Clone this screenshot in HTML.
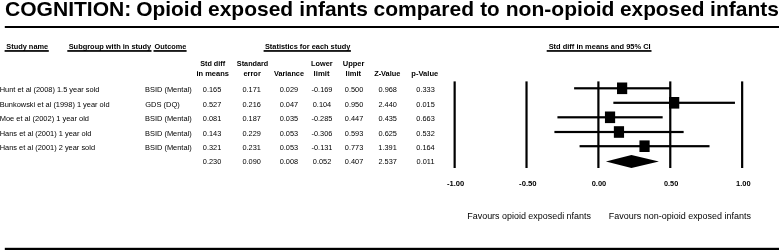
<!DOCTYPE html><html><head><meta charset="utf-8"><title>Forest plot</title><style>html,body{margin:0;padding:0;background:#fff;overflow:hidden}svg{display:block}text{font-family:"Liberation Sans",Arial,Helvetica,sans-serif;fill:#000}.b{font-weight:bold}</style></head><body>
<svg width="779" height="250" viewBox="0 0 779 250">
<rect width="779" height="250" fill="#fff"/>
<text class="b" x="4.96" y="15.60" font-size="20.6" textLength="126.40" lengthAdjust="spacingAndGlyphs">COGNITION:</text>
<text class="b" x="136.16" y="15.60" font-size="20.6" textLength="66.31" lengthAdjust="spacingAndGlyphs">Opioid</text>
<text class="b" x="207.97" y="15.60" font-size="20.6" textLength="85.21" lengthAdjust="spacingAndGlyphs">exposed</text>
<text class="b" x="299.34" y="15.60" font-size="20.6" textLength="68.61" lengthAdjust="spacingAndGlyphs">infants</text>
<text class="b" x="373.57" y="15.60" font-size="20.6" textLength="100.41" lengthAdjust="spacingAndGlyphs">compared</text>
<text class="b" x="480.19" y="15.60" font-size="20.6" textLength="19.44" lengthAdjust="spacingAndGlyphs">to</text>
<text class="b" x="505.74" y="15.60" font-size="20.6" textLength="108.74" lengthAdjust="spacingAndGlyphs">non-opioid</text>
<text class="b" x="619.98" y="15.60" font-size="20.6" textLength="84.49" lengthAdjust="spacingAndGlyphs">exposed</text>
<text class="b" x="710.14" y="15.60" font-size="20.6" textLength="68.82" lengthAdjust="spacingAndGlyphs">infants</text>
<text class="b" x="6.25" y="48.70" font-size="7.4" textLength="41.94" lengthAdjust="spacingAndGlyphs">Study name</text>
<text class="b" x="68.65" y="48.70" font-size="7.4" textLength="82.62" lengthAdjust="spacingAndGlyphs">Subgroup with in study</text>
<text class="b" x="154.51" y="48.70" font-size="7.4" textLength="31.79" lengthAdjust="spacingAndGlyphs">Outcome</text>
<text class="b" x="264.95" y="48.70" font-size="7.4" textLength="85.32" lengthAdjust="spacingAndGlyphs">Statistics for each study</text>
<text class="b" x="548.65" y="48.70" font-size="7.4" textLength="101.98" lengthAdjust="spacingAndGlyphs">Std diff in means and 95% CI</text>
<text class="b" x="200.15" y="65.70" font-size="7.7" textLength="24.99" lengthAdjust="spacingAndGlyphs">Std diff</text>
<text class="b" x="196.45" y="75.60" font-size="7.7" textLength="32.52" lengthAdjust="spacingAndGlyphs">in means</text>
<text class="b" x="236.86" y="65.70" font-size="7.7" textLength="31.39" lengthAdjust="spacingAndGlyphs">Standard</text>
<text class="b" x="243.38" y="75.60" font-size="7.7" textLength="17.49" lengthAdjust="spacingAndGlyphs">error</text>
<text class="b" x="274.00" y="75.60" font-size="7.7" textLength="29.99" lengthAdjust="spacingAndGlyphs">Variance</text>
<text class="b" x="311.06" y="65.70" font-size="7.7" textLength="21.61" lengthAdjust="spacingAndGlyphs">Lower</text>
<text class="b" x="313.64" y="75.60" font-size="7.7" textLength="15.89" lengthAdjust="spacingAndGlyphs">limit</text>
<text class="b" x="342.75" y="65.70" font-size="7.7" textLength="21.72" lengthAdjust="spacingAndGlyphs">Upper</text>
<text class="b" x="345.55" y="75.60" font-size="7.7" textLength="15.47" lengthAdjust="spacingAndGlyphs">limit</text>
<text class="b" x="374.15" y="75.60" font-size="7.7" textLength="26.24" lengthAdjust="spacingAndGlyphs">Z-Value</text>
<text class="b" x="411.35" y="75.60" font-size="7.7" textLength="26.85" lengthAdjust="spacingAndGlyphs">p-Value</text>
<text x="-0.29" y="92.30" font-size="7.3" textLength="99.71" lengthAdjust="spacingAndGlyphs">Hunt et al (2008) 1.5 year sold</text>
<text x="145.01" y="92.30" font-size="7.3" textLength="46.69" lengthAdjust="spacingAndGlyphs">BSID (Mental)</text>
<text x="202.80" y="92.30" font-size="7.3" textLength="18.45" lengthAdjust="spacingAndGlyphs">0.165</text>
<text x="242.43" y="92.30" font-size="7.3" textLength="18.45" lengthAdjust="spacingAndGlyphs">0.171</text>
<text x="279.73" y="92.30" font-size="7.3" textLength="18.45" lengthAdjust="spacingAndGlyphs">0.029</text>
<text x="311.57" y="92.30" font-size="7.3" textLength="20.91" lengthAdjust="spacingAndGlyphs">-0.169</text>
<text x="344.80" y="92.30" font-size="7.3" textLength="18.45" lengthAdjust="spacingAndGlyphs">0.500</text>
<text x="378.50" y="92.30" font-size="7.3" textLength="18.45" lengthAdjust="spacingAndGlyphs">0.968</text>
<text x="416.30" y="92.30" font-size="7.3" textLength="18.45" lengthAdjust="spacingAndGlyphs">0.333</text>
<text x="-0.29" y="106.70" font-size="7.3" textLength="109.81" lengthAdjust="spacingAndGlyphs">Bunkowski et al (1998) 1 year old</text>
<text x="145.23" y="106.70" font-size="7.3" textLength="34.57" lengthAdjust="spacingAndGlyphs">GDS (DQ)</text>
<text x="202.83" y="106.70" font-size="7.3" textLength="18.45" lengthAdjust="spacingAndGlyphs">0.527</text>
<text x="242.40" y="106.70" font-size="7.3" textLength="18.45" lengthAdjust="spacingAndGlyphs">0.216</text>
<text x="279.73" y="106.70" font-size="7.3" textLength="18.45" lengthAdjust="spacingAndGlyphs">0.047</text>
<text x="312.76" y="106.70" font-size="7.3" textLength="18.45" lengthAdjust="spacingAndGlyphs">0.104</text>
<text x="344.80" y="106.70" font-size="7.3" textLength="18.45" lengthAdjust="spacingAndGlyphs">0.950</text>
<text x="378.42" y="106.70" font-size="7.3" textLength="18.45" lengthAdjust="spacingAndGlyphs">2.440</text>
<text x="416.30" y="106.70" font-size="7.3" textLength="18.45" lengthAdjust="spacingAndGlyphs">0.015</text>
<text x="-0.30" y="121.10" font-size="7.3" textLength="89.32" lengthAdjust="spacingAndGlyphs">Moe et al (2002) 1 year old</text>
<text x="145.01" y="121.10" font-size="7.3" textLength="46.69" lengthAdjust="spacingAndGlyphs">BSID (Mental)</text>
<text x="202.83" y="121.10" font-size="7.3" textLength="18.45" lengthAdjust="spacingAndGlyphs">0.081</text>
<text x="242.43" y="121.10" font-size="7.3" textLength="18.45" lengthAdjust="spacingAndGlyphs">0.187</text>
<text x="279.70" y="121.10" font-size="7.3" textLength="18.45" lengthAdjust="spacingAndGlyphs">0.035</text>
<text x="311.53" y="121.10" font-size="7.3" textLength="20.91" lengthAdjust="spacingAndGlyphs">-0.285</text>
<text x="344.83" y="121.10" font-size="7.3" textLength="18.45" lengthAdjust="spacingAndGlyphs">0.447</text>
<text x="378.50" y="121.10" font-size="7.3" textLength="18.45" lengthAdjust="spacingAndGlyphs">0.435</text>
<text x="416.30" y="121.10" font-size="7.3" textLength="18.45" lengthAdjust="spacingAndGlyphs">0.663</text>
<text x="-0.29" y="135.50" font-size="7.3" textLength="91.71" lengthAdjust="spacingAndGlyphs">Hans et al (2001) 1 year old</text>
<text x="145.01" y="135.50" font-size="7.3" textLength="46.69" lengthAdjust="spacingAndGlyphs">BSID (Mental)</text>
<text x="202.80" y="135.50" font-size="7.3" textLength="18.45" lengthAdjust="spacingAndGlyphs">0.143</text>
<text x="242.43" y="135.50" font-size="7.3" textLength="18.45" lengthAdjust="spacingAndGlyphs">0.229</text>
<text x="279.70" y="135.50" font-size="7.3" textLength="18.45" lengthAdjust="spacingAndGlyphs">0.053</text>
<text x="311.53" y="135.50" font-size="7.3" textLength="20.91" lengthAdjust="spacingAndGlyphs">-0.306</text>
<text x="344.80" y="135.50" font-size="7.3" textLength="18.45" lengthAdjust="spacingAndGlyphs">0.593</text>
<text x="378.50" y="135.50" font-size="7.3" textLength="18.45" lengthAdjust="spacingAndGlyphs">0.625</text>
<text x="416.33" y="135.50" font-size="7.3" textLength="18.45" lengthAdjust="spacingAndGlyphs">0.532</text>
<text x="-0.29" y="149.90" font-size="7.3" textLength="95.31" lengthAdjust="spacingAndGlyphs">Hans et al (2001) 2 year sold</text>
<text x="145.01" y="149.90" font-size="7.3" textLength="46.69" lengthAdjust="spacingAndGlyphs">BSID (Mental)</text>
<text x="202.83" y="149.90" font-size="7.3" textLength="18.45" lengthAdjust="spacingAndGlyphs">0.321</text>
<text x="242.43" y="149.90" font-size="7.3" textLength="18.45" lengthAdjust="spacingAndGlyphs">0.231</text>
<text x="279.70" y="149.90" font-size="7.3" textLength="18.45" lengthAdjust="spacingAndGlyphs">0.053</text>
<text x="311.57" y="149.90" font-size="7.3" textLength="20.91" lengthAdjust="spacingAndGlyphs">-0.131</text>
<text x="344.80" y="149.90" font-size="7.3" textLength="18.45" lengthAdjust="spacingAndGlyphs">0.773</text>
<text x="378.39" y="149.90" font-size="7.3" textLength="18.45" lengthAdjust="spacingAndGlyphs">1.391</text>
<text x="416.26" y="149.90" font-size="7.3" textLength="18.45" lengthAdjust="spacingAndGlyphs">0.164</text>
<text x="202.80" y="164.30" font-size="7.3" textLength="18.45" lengthAdjust="spacingAndGlyphs">0.230</text>
<text x="242.40" y="164.30" font-size="7.3" textLength="18.45" lengthAdjust="spacingAndGlyphs">0.090</text>
<text x="279.70" y="164.30" font-size="7.3" textLength="18.45" lengthAdjust="spacingAndGlyphs">0.008</text>
<text x="312.83" y="164.30" font-size="7.3" textLength="18.45" lengthAdjust="spacingAndGlyphs">0.052</text>
<text x="344.83" y="164.30" font-size="7.3" textLength="18.45" lengthAdjust="spacingAndGlyphs">0.407</text>
<text x="378.46" y="164.30" font-size="7.3" textLength="18.45" lengthAdjust="spacingAndGlyphs">2.537</text>
<text x="416.61" y="164.30" font-size="7.3" textLength="17.90" lengthAdjust="spacingAndGlyphs">0.011</text>
<text class="b" x="446.97" y="186.00" font-size="7.5" textLength="17.30" lengthAdjust="spacingAndGlyphs">-1.00</text>
<text class="b" x="519.07" y="186.00" font-size="7.5" textLength="17.61" lengthAdjust="spacingAndGlyphs">-0.50</text>
<text class="b" x="591.68" y="186.00" font-size="7.5" textLength="14.60" lengthAdjust="spacingAndGlyphs">0.00</text>
<text class="b" x="663.98" y="186.00" font-size="7.5" textLength="14.29" lengthAdjust="spacingAndGlyphs">0.50</text>
<text class="b" x="736.05" y="186.00" font-size="7.5" textLength="14.62" lengthAdjust="spacingAndGlyphs">1.00</text>
<text x="467.29" y="218.70" font-size="8.8" textLength="123.68" lengthAdjust="spacingAndGlyphs">Favours opioid exposedi nfants</text>
<text x="608.88" y="218.70" font-size="8.8" textLength="142.09" lengthAdjust="spacingAndGlyphs">Favours non-opioid exposed infants</text>
<rect x="4.8" y="26" width="775" height="2"/>
<rect x="4.8" y="247.8" width="775" height="3"/>
<rect x="4.6" y="50.1" width="44.2" height="1.7"/>
<rect x="67.3" y="50.1" width="84.2" height="1.7"/>
<rect x="153.5" y="50.1" width="33.1" height="1.7"/>
<rect x="263.6" y="50.1" width="87.3" height="1.7"/>
<rect x="546.7" y="50.1" width="104.8" height="1.7"/>
<rect x="453.55" y="81.4" width="2.2" height="86.6"/>
<rect x="525.42" y="81.4" width="2.2" height="86.6"/>
<rect x="597.30" y="81.4" width="2.2" height="86.6"/>
<rect x="669.17" y="81.4" width="2.2" height="86.6"/>
<rect x="741.05" y="81.4" width="2.2" height="86.6"/>
<rect x="574.11" y="87.20" width="96.17" height="2.2"/>
<rect x="617.02" y="82.50" width="10.2" height="11.6"/>
<rect x="613.35" y="101.70" width="121.61" height="2.2"/>
<rect x="669.06" y="97.00" width="10.2" height="11.6"/>
<rect x="557.43" y="116.20" width="105.23" height="2.2"/>
<rect x="604.94" y="111.50" width="10.2" height="11.6"/>
<rect x="554.41" y="130.90" width="129.23" height="2.2"/>
<rect x="613.86" y="126.20" width="10.2" height="11.6"/>
<rect x="579.57" y="145.10" width="129.95" height="2.2"/>
<rect x="639.44" y="140.40" width="10.2" height="11.6"/>
<polygon points="605.88,161.6 631.46,155.1 658.91,161.6 631.46,168.1"/>
</svg></body></html>
